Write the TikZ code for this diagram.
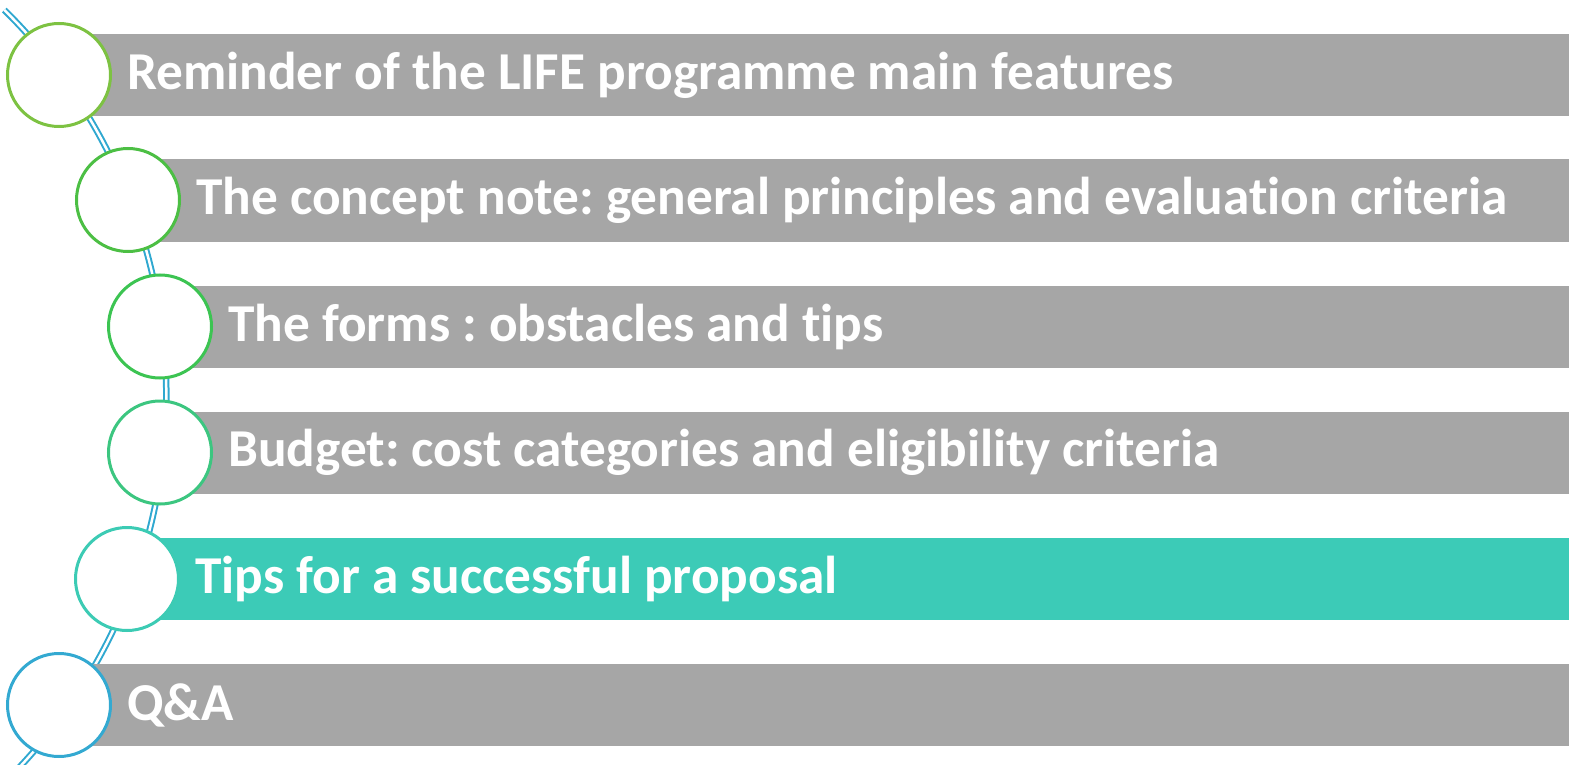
\documentclass[tikz,border=0pt]{standalone}
\usepackage{fontspec}
\setmainfont{Carlito}[Ligatures=NoCommon]
\frenchspacing
\definecolor{barGray}{HTML}{A6A6A6}
\definecolor{barTeal}{HTML}{3CCBB7}
\definecolor{railBlue}{HTML}{2FA8D0}
\definecolor{ringA}{HTML}{7DC242}
\definecolor{ringB}{HTML}{4CBF44}
\definecolor{ringC}{HTML}{3CC452}
\definecolor{ringD}{HTML}{3CC680}
\definecolor{ringE}{HTML}{3CCBB4}
\definecolor{ringF}{HTML}{33A9D1}
\tikzset{
  bar/.style={fill=barGray, draw=none, rectangle, anchor=west, minimum height=82pt,
    inner sep=0pt},
  bartext/.style={anchor=west, inner sep=0pt, text=white,
    font=\fontsize{53.3}{60}\selectfont\bfseries},
  ring/.style={circle, fill=white, line width=3pt, minimum size=103pt, inner sep=0pt},
  rail/.style={draw=railBlue, line width=2pt, double=white, double distance=2.5pt}
}
\begin{document}
\begin{tikzpicture}[x=1pt, y=-1pt]
  \useasboundingbox (0,0) rectangle (1575,765);
  % curved double rail behind the markers
  \coordinate (railTop) at (4.3,10);
  \draw[rail] (railTop) arc[start angle=-45.5, end angle=45, radius=541.7];
  % bars
  \node[bar, minimum width=1569-59] (b1) at (59,75) {};
  \node[bar, minimum width=1569-128] (b2) at (128,200.5) {};
  \node[bar, minimum width=1569-160] (b3) at (160,326.5) {};
  \node[bar, minimum width=1569-160] (b4) at (160,452.5) {};
  \node[bar, fill=barTeal, minimum width=1569-127] (b5) at (127,578.5) {};
  \node[bar, minimum width=1569-59] (b6) at (59,705) {};
  % labels
  \node[bartext] (t1) at ([xshift=68pt]b1.west) {Reminder of the LIFE programme main features};
  \node[bartext] (t2) at ([xshift=68pt]b2.west) {The concept note: general principles and evaluation criteria};
  \node[bartext] (t3) at ([xshift=68pt]b3.west) {The forms : obstacles and tips};
  \node[bartext] (t4) at ([xshift=68pt]b4.west) {Budget: cost categories and eligibility criteria};
  \node[bartext] (t5) at ([xshift=68pt]b5.west) {Tips for a successful proposal};
  \node[bartext] (t6) at ([xshift=68pt]b6.west) {Q\&A};
  % ring markers
  \node[ring, draw=ringA] (c1) at (59,75) {};
  \node[ring, draw=ringB] (c2) at (128,200) {};
  \node[ring, draw=ringC] (c3) at (160,326.5) {};
  \node[ring, draw=ringD] (c4) at (160,452.5) {};
  \node[ring, draw=ringE] (c5) at (127,579) {};
  \node[ring, draw=ringF] (c6) at (59,705) {};
\end{tikzpicture}
\end{document}
